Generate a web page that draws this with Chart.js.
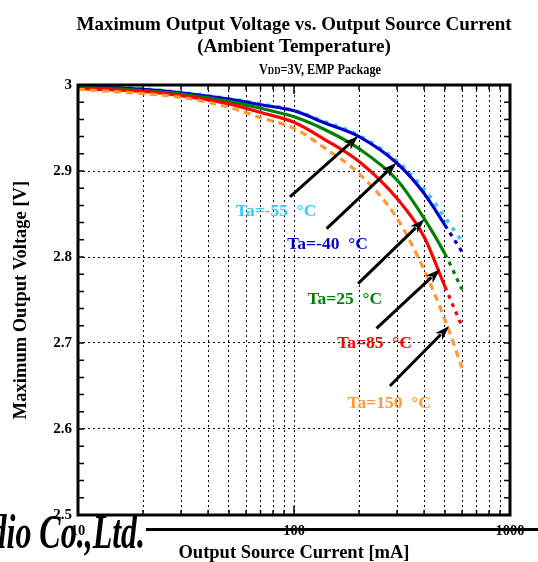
<!DOCTYPE html>
<html>
<head>
<meta charset="utf-8">
<script src="https://cdn.jsdelivr.net/npm/chart.js@4.4.1/dist/chart.umd.min.js"></script>
<style>
  html, body { margin: 0; padding: 0; background: #fff; }
  #wrap { width: 538px; height: 562px; }
</style>
</head>
<body>
<div id="wrap"><canvas id="chart"></canvas></div>
<script>
// Output source current [mA]
const currents = [10, 20, 30, 50, 70, 100, 140, 200, 300, 400, 500, 600];
// Maximum output voltage [V] per ambient temperature
const vTaM55 = [2.9992, 2.9955, 2.9915, 2.9840, 2.9780, 2.9705, 2.9570, 2.9415, 2.9115, 2.8790, 2.8460, 2.8180];
const vTaM40 = [2.9988, 2.9950, 2.9910, 2.9835, 2.9770, 2.9700, 2.9555, 2.9400, 2.9090, 2.8740, 2.8370, 2.8060];
const vTa25  = [2.9977, 2.9935, 2.9895, 2.9810, 2.9730, 2.9630, 2.9477, 2.9260, 2.8895, 2.8450, 2.8035, 2.7620];
const vTa85  = [2.9960, 2.9925, 2.9876, 2.9780, 2.9680, 2.9566, 2.9360, 2.9110, 2.8680, 2.8236, 2.7655, 2.7190];
const vTa150 = [2.9950, 2.9900, 2.9857, 2.9740, 2.9620, 2.9496, 2.9260, 2.8970, 2.8450, 2.7850, 2.7270, 2.6710];

const xGridValues = [10, 20, 30, 40, 50, 60, 70, 80, 90, 100, 200, 300, 400, 500, 600, 700, 800, 900, 1000];
const xTickLabels = [10, 100, 1000];
const yTickValues = [2.5, 2.6, 2.7, 2.8, 2.9, 3];

// callouts: label text, label anchor (mA, V), arrow tail and tip (mA, V)
const calloutText  = ['Ta=-55  \u00B0C', 'Ta=-40  \u00B0C', 'Ta=25  \u00B0C', 'Ta=85  \u00B0C', 'Ta=150  \u00B0C'];
const calloutColor = ['#33ccff', '#0000cc', '#008000', '#ff0000', '#ff9933'];
const calloutAt    = [[82.6, 2.853], [143, 2.814], [172, 2.751], [236, 2.700], [276, 2.630]];
const arrowTail    = [[95.8, 2.870], [141.6, 2.833], [198, 2.769], [241, 2.717], [278, 2.650]];
const arrowTip     = [[198.6, 2.9407], [298.6, 2.9097], [402, 2.8438], [475, 2.7857], [523, 2.7198]];

const SERIF = "'Liberation Serif', 'Times New Roman', serif";
const toPts = ys => currents.map((x, i) => ({ x: x, y: ys[i] }));
const dottedTail = ctx => ctx.p0.parsed.x >= 500 ? [4, 5] : undefined;

const framePlugin = {
    id: 'frame',
    beforeDraw(chart) {
        const c = chart.ctx;
        // company mark behind everything
        c.save();
        c.fillStyle = '#000';
        c.font = 'bold italic 34px ' + SERIF;
        c.textAlign = 'right';
        c.textBaseline = 'alphabetic';
        c.translate(145, 548);
        c.scale(0.94, 1.42);
        c.fillText('New Japan Radio Co.,Ltd.', 0, 0);
        c.restore();
    },
    afterDatasetsDraw(chart) {
        const c = chart.ctx;
        const xs = chart.scales.x, ys = chart.scales.y;
        c.save();
        // arrows
        c.strokeStyle = '#000';
        c.fillStyle = '#000';
        c.lineWidth = 3;
        arrowTail.forEach((t, i) => {
            const x0 = xs.getPixelForValue(t[0]), y0 = ys.getPixelForValue(t[1]);
            const x1 = xs.getPixelForValue(arrowTip[i][0]), y1 = ys.getPixelForValue(arrowTip[i][1]);
            const a = Math.atan2(y1 - y0, x1 - x0);
            const hl = 15, hw = 5;
            c.beginPath();
            c.moveTo(x0, y0);
            c.lineTo(x1 - Math.cos(a) * hl * 0.8, y1 - Math.sin(a) * hl * 0.8);
            c.stroke();
            c.beginPath();
            c.moveTo(x1, y1);
            c.lineTo(x1 - Math.cos(a) * hl - Math.sin(a) * hw, y1 - Math.sin(a) * hl + Math.cos(a) * hw);
            c.lineTo(x1 - Math.cos(a) * hl * 0.7, y1 - Math.sin(a) * hl * 0.7);
            c.lineTo(x1 - Math.cos(a) * hl + Math.sin(a) * hw, y1 - Math.sin(a) * hl - Math.cos(a) * hw);
            c.closePath();
            c.fill();
        });
        // labels
        c.font = 'bold 17.5px ' + SERIF;
        c.textAlign = 'center';
        c.textBaseline = 'middle';
        calloutText.forEach((t, i) => {
            c.fillStyle = calloutColor[i];
            c.fillText(t, xs.getPixelForValue(calloutAt[i][0]), ys.getPixelForValue(calloutAt[i][1]));
        });
        c.restore();
    },
    afterDraw(chart) {
        const c = chart.ctx;
        const a = chart.chartArea;
        const xs = chart.scales.x, ys = chart.scales.y;
        c.save();
        c.strokeStyle = '#000';
        // small ticks on the frame
        c.lineWidth = 1.5;
        c.beginPath();
        for (let k = 1; k < 25; k++) {
            const py = ys.getPixelForValue(2.5 + k * 0.02);
            c.moveTo(a.left, py); c.lineTo(a.left + 6, py);
            c.moveTo(a.right, py); c.lineTo(a.right - 6, py);
        }
        xGridValues.forEach(v => {
            const px = xs.getPixelForValue(v);
            const len = xTickLabels.includes(v) ? 9 : 5;
            c.moveTo(px, a.top); c.lineTo(px, a.top + len);
            c.moveTo(px, a.bottom); c.lineTo(px, a.bottom - len);
        });
        c.stroke();
        // heavy frame
        c.lineWidth = 3;
        c.strokeRect(a.left, a.top, a.right - a.left, a.bottom - a.top);
        // rule under the company mark
        c.lineWidth = 3;
        c.beginPath();
        c.moveTo(146, 529.5); c.lineTo(538, 529.5);
        c.stroke();
        // titles
        c.fillStyle = '#000';
        c.textAlign = 'center';
        c.textBaseline = 'middle';
        c.font = 'bold 19px ' + SERIF;
        c.fillText('Maximum Output Voltage vs. Output Source Current', 294, 25);
        c.fillText('(Ambient Temperature)', 294, 47);
        // V_DD line, slightly condensed
        const big = 'bold 14px ' + SERIF, small = 'bold 10px ' + SERIF;
        c.textAlign = 'left';
        c.textBaseline = 'alphabetic';
        c.font = big; const w1 = c.measureText('V').width;
        c.font = small; const w2 = c.measureText('DD').width;
        c.font = big; const w3 = c.measureText('=3V, EMP Package').width;
        const sx = 122 / (w1 + w2 + w3);
        c.translate(320 - 61, 74);
        c.scale(sx, 1);
        let x = 0;
        c.font = big; c.fillText('V', x, 0); x += w1;
        c.font = small; c.fillText('DD', x, 0); x += w2;
        c.font = big; c.fillText('=3V, EMP Package', x, 0);
        c.restore();
    }
};

const line = (label, ys, color, extra) => Object.assign({
    label: label,
    data: toPts(ys),
    borderColor: color,
    backgroundColor: color,
    borderWidth: 3.2,
    pointRadius: 0,
    cubicInterpolationMode: 'monotone',
    fill: false
}, extra);

new Chart(document.getElementById('chart'), {
    type: 'line',
    data: {
        datasets: [
            line('Ta=150\u00B0C', vTa150, '#ff9933', { borderDash: [7, 5] }),
            line('Ta=85\u00B0C', vTa85, '#ff0000', { segment: { borderDash: dottedTail } }),
            line('Ta=25\u00B0C', vTa25, '#008000', { segment: { borderDash: dottedTail } }),
            line('Ta=-40\u00B0C', vTaM40, '#0000cc', { segment: { borderDash: dottedTail } }),
            line('Ta=-55\u00B0C', vTaM55, '#33ccff', { borderDash: [4, 6], borderWidth: 3.6 })
        ]
    },
    options: {
        responsive: true, maintainAspectRatio: false,
        animation: false,
        layout: { padding: { top: 85, right: 28, left: 0, bottom: 0 } },
        plugins: { legend: { display: false }, tooltip: { enabled: false } },
        scales: {
            x: {
                type: 'logarithmic', min: 10, max: 1000,
                afterBuildTicks: s => { s.ticks = xGridValues.map(v => ({ value: v })); },
                afterFit: s => { s.height = 47; },
                grid: { color: '#000', lineWidth: 1, drawTicks: false },
                border: { display: false, dash: [2, 3] },
                ticks: {
                    autoSkip: false, maxRotation: 0, padding: 8, color: '#000',
                    font: { family: SERIF, size: 14.5, weight: 'bold' },
                    callback: v => xTickLabels.includes(v) ? String(v) : ''
                },
                title: {
                    display: true, text: 'Output Source Current [mA]', color: '#000',
                    font: { family: SERIF, size: 18.5, weight: 'bold' }, padding: { top: 0, bottom: -2 }
                }
            },
            y: {
                min: 2.5, max: 3,
                afterBuildTicks: s => { s.ticks = yTickValues.map(v => ({ value: v })); },
                afterFit: s => { s.width = 78; },
                grid: { color: '#000', lineWidth: 1, drawTicks: false },
                border: { display: false, dash: [2, 3] },
                ticks: {
                    padding: 6, color: '#000',
                    font: { family: SERIF, size: 15, weight: 'bold' },
                    callback: v => v === 3 ? '3' : v.toFixed(1)
                },
                title: {
                    display: true, text: 'Maximum Output Voltage [V]', color: '#000',
                    font: { family: SERIF, size: 18.5, weight: 'bold' }, padding: { top: 10, bottom: 0 }
                }
            }
        }
    },
    plugins: [framePlugin]
});
</script>
</body>
</html>
